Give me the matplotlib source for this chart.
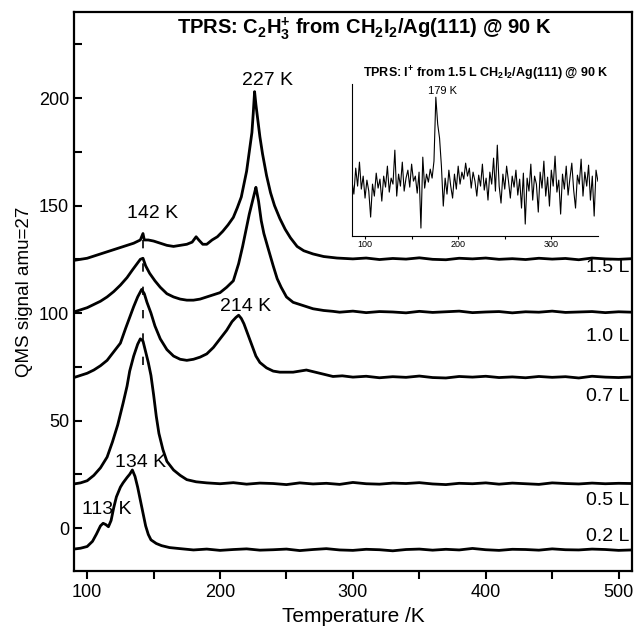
import matplotlib
matplotlib.use("Agg")
import matplotlib.pyplot as plt
import numpy as np

plt.rcParams['font.family'] = ['Liberation Sans', 'DejaVu Sans']
plt.rcParams['mathtext.fontset'] = 'custom'
plt.rcParams['mathtext.rm'] = 'Liberation Sans'
plt.rcParams['mathtext.bf'] = 'Liberation Sans:bold'
plt.rcParams['mathtext.it'] = 'Liberation Sans:italic'

# --- main TPRS traces (C2H3+, amu 27) ---
t_02 = [90, 95, 100, 104, 107, 110, 112, 114, 116, 118, 120, 122, 125, 127, 130, 132, 134,
        136, 138, 140, 142, 144, 146, 148, 152, 156, 162] + list(range(170, 511, 10))
s_02 = [-9.8, -9.4, -8.6, -6.2, -2.8, 1.0, 2.2, 1.6, 0.6, 3.5, 9.5, 14.5, 19.0, 21.0, 23.5, 25.0, 27.0,
        24.0, 19.0, 13.0, 7.0, 1.0, -3.0, -5.5, -7.2, -8.2, -9.1,
        -9.6, -10.2, -9.8, -10.4, -10.0, -9.7, -10.3, -10.1, -9.8, -10.5, -10.0, -9.6,
        -10.2, -10.4, -9.9, -10.1, -10.6, -10.0, -9.8, -10.3, -9.9, -10.2, -9.5, -10.1,
        -10.4, -9.9, -10.0, -10.3, -9.7, -10.1, -10.2, -9.8, -10.0, -10.4, -10.2]

t_05 = [90, 95, 100, 105, 110, 115, 119, 123, 127, 130, 132, 135, 138, 140, 142, 144,
        146, 148, 150, 152, 154, 157, 160, 165, 170, 175, 182] + list(range(190, 511, 10))
s_05 = [20.5, 21.0, 22.0, 24.5, 28.0, 33.0, 40.0, 48.0, 58.0, 66.0, 73.0, 80.0, 85.5, 88.0, 87.0, 82.0,
        77.0, 71.0, 62.0, 52.0, 44.0, 36.5, 31.0, 27.0, 24.5, 22.5, 21.5,
        21.0, 20.6, 21.1, 20.4, 20.9, 20.7, 20.2, 21.0, 20.5, 20.8, 20.3, 21.2, 20.6,
        20.4, 20.9, 20.7, 21.1, 20.5, 20.2, 20.8, 20.6, 21.0, 20.4, 20.9, 20.6, 20.3,
        21.0, 20.7, 20.5, 20.9, 20.6, 20.8, 20.7]

t_07 = [90, 95, 100, 105, 110, 115, 120, 125, 129, 132, 135, 138, 141, 143, 145, 148,
        151, 155, 160, 165, 170, 175, 180, 185, 190, 195, 200, 205, 209, 212, 214, 216,
        218, 221, 224, 227, 230, 235, 240, 245, 255, 265, 275, 285, 292] + list(range(300, 511, 10))
s_07 = [70.0, 71.0, 72.0, 73.5, 75.5, 78.0, 82.0, 86.0, 93.0, 98.0, 103.0, 107.5, 111.0, 109.0, 105.0, 100.0,
        94.0, 88.0, 83.0, 80.0, 78.5, 78.0, 78.5, 79.5, 81.0, 84.0, 88.0, 92.0, 96.0, 98.0, 99.0, 97.5,
        95.0, 90.0, 85.0, 80.0, 77.0, 74.5, 73.0, 72.5, 72.5, 73.5, 72.0, 70.5, 70.8,
        70.2, 70.6, 69.9, 70.4, 70.1, 70.7, 70.0, 69.8, 70.5, 70.2, 70.6, 70.0, 70.3,
        69.9, 70.5, 70.1, 70.4, 69.8, 70.6, 70.2, 70.0, 70.3]

t_10 = [90, 95, 100, 105, 110, 115, 120, 125, 130, 134, 137, 140, 142, 144, 147, 151,
        155, 160, 165, 170, 175, 180, 185, 190, 195, 200, 205, 210, 214, 217, 220, 222,
        224, 226, 227, 229, 231, 233, 236, 240, 243, 246, 250, 255, 260, 265, 270, 278,
        285] + list(range(290, 511, 10))
s_10 = [100.5, 101.5, 102.5, 104.0, 105.5, 107.5, 110.0, 113.0, 116.5, 120.0, 122.5, 125.0, 125.5, 122.0, 118.5, 115.0,
        112.0, 109.0, 107.5, 106.5, 106.0, 106.0, 106.5, 107.5, 108.5, 109.5, 112.0, 115.0, 123.0, 131.0, 140.0, 146.0,
        151.0, 156.0, 158.5, 152.0, 143.0, 137.0, 130.5, 122.0, 116.0, 112.0, 107.5, 105.0, 104.0, 103.0, 102.0, 101.2,
        100.8,
        100.4, 100.9, 100.2, 100.7, 100.5, 100.1, 100.8, 100.3, 100.6, 100.9, 100.2, 100.5,
        100.7, 100.1, 100.6, 100.4, 100.9, 100.3, 100.5, 100.7, 100.2, 100.6, 100.4]

t_15 = [90, 95, 100, 105, 110, 115, 120, 125, 130, 135, 140, 142, 143, 146, 150, 155,
        160, 165, 170, 175, 179, 182, 184, 187, 190, 194, 198, 202, 206, 210, 213, 216,
        218, 220, 222, 224, 225, 226, 227, 228, 230, 232, 235, 238, 241, 245, 249, 253,
        258, 263, 270, 278, 288] + list(range(300, 511, 10))
s_15 = [124.5, 125.0, 125.5, 126.5, 127.5, 128.5, 129.5, 130.5, 131.5, 132.5, 134.0, 137.0, 134.0, 134.0, 133.5, 132.5,
        131.5, 131.0, 131.5, 132.0, 133.0, 135.5, 134.0, 132.0, 132.0, 134.0, 135.5, 138.0, 141.0, 144.5, 149.0, 154.0,
        160.0, 166.0, 175.0, 184.0, 193.0, 203.0, 197.0, 192.0, 182.0, 174.0, 164.0, 156.0, 150.0, 144.0, 139.0, 135.0,
        131.0, 129.0, 127.5, 126.3, 125.6,
        125.2, 125.6, 124.9, 125.4, 125.1, 125.7, 125.0, 124.8, 125.5, 125.2, 125.6, 125.0,
        125.3, 124.9, 125.5, 125.1, 125.4, 124.8, 125.6, 125.2, 125.0, 125.3]

traces = [(t_02, s_02), (t_05, s_05), (t_07, s_07), (t_10, s_10), (t_15, s_15)]
dose_labels = ['0.2 L', '0.5 L', '0.7 L', '1.0 L', '1.5 L']
dose_label_y = [-4, 13, 61, 89, 121]

peak_labels = ['113 K', '134 K', '214 K', '142 K', '227 K']
peak_label_x = [115, 140, 219, 149, 236]
peak_label_y = [8.5, 30.5, 103, 146.5, 208]

# --- inset: I+ signal from 1.5 L ---
t_inset = np.arange(86, 351, 2)
s_inset = [55, 42, 68, 50, 74, 47, 60, 38, 56, 45, 19, 52, 40, 63, 48, 57,
           35, 60, 49, 70, 44, 58, 52, 86, 40, 62, 50, 74, 45, 58, 66, 49,
           72, 55, 60, 43, 64, 8, 79, 48, 62, 54, 67, 58, 75, 139, 112, 98,
           70, 30, 58, 42, 66, 50, 38, 62, 47, 70, 52, 64, 57, 73, 60, 68,
           48, 64, 55, 40, 61, 50, 72, 46, 58, 36, 64, 52, 78, 45, 91, 50,
           33, 62, 47, 70, 55, 38, 60, 49, 66, 41, 57, 28, 63, 12, 58, 45,
           72, 36, 60, 52, 24, 64, 48, 75, 40, 59, 30, 66, 50, 80, 44, 56,
           22, 62, 47, 70, 41, 58, 73, 46, 28, 61, 52, 77, 40, 64, 50, 71,
           36, 60, 20, 66, 55]

fig = plt.figure(figsize=(6.37, 6.38), dpi=100)
ax = fig.add_axes([0.116, 0.105, 0.876, 0.876])

for t, s in traces:
    ax.plot(t, s, color='black', lw=2.0)

# dashed guide at 142 K
ax.plot([142, 142], [76, 134], color='black', lw=1.2, dashes=(5, 9))

for lab, y in zip(dose_labels, dose_label_y):
    ax.text(508, y, lab, ha='right', va='center', fontsize=14)
for lab, x, y in zip(peak_labels, peak_label_x, peak_label_y):
    ax.text(x, y, lab, ha='center', va='center', fontsize=14)

ax.text(0.52, 0.971, r'TPRS: C$_\mathbf{2}$H$_\mathbf{3}^\mathbf{+}$ from CH$_\mathbf{2}$I$_\mathbf{2}$/Ag(111) @ 90 K',
        transform=ax.transAxes, ha='center', va='center', fontsize=14.5, fontweight='bold')

ax.set_xlim(90, 510)
ax.set_ylim(-20, 240)
ax.set_xticks([100, 200, 300, 400, 500])
ax.set_xticks([150, 250, 350, 450], minor=True)
ax.set_yticks([0, 50, 100, 150, 200])
ax.set_yticks([-25, 25, 75, 125, 175, 225], minor=True)
ax.set_ylim(-20, 240)
ax.tick_params(axis='x', which='both', direction='out', length=6, width=1.5, labelsize=13)
ax.tick_params(axis='y', which='both', direction='in', length=6, width=1.5, labelsize=13)
for sp in ax.spines.values():
    sp.set_linewidth(1.6)
ax.set_xlabel('Temperature /K', fontsize=15)
ax.set_ylabel('QMS signal amu=27', fontsize=13.5)

# inset
ax2 = fig.add_axes([0.5526, 0.630, 0.386, 0.238])
ax2.plot(t_inset, s_inset, color='black', lw=0.8)
ax2.set_xlim(86, 350)
ax2.set_ylim(0, 152)
ax2.spines['top'].set_visible(False)
ax2.spines['right'].set_visible(False)
ax2.set_yticks([])
ax2.set_xticks([100, 200, 300])
ax2.set_xticks([150, 250], minor=True)
ax2.tick_params(axis='x', which='both', direction='out', length=2, width=0.8, labelsize=6.5, pad=1)
ax2.patch.set_alpha(0)
ax2.text(183, 145, '179 K', ha='center', va='center', fontsize=8)
fig.text(0.763, 0.885, r'TPRS: I$^\mathbf{+}$ from 1.5 L CH$_\mathbf{2}$I$_\mathbf{2}$/Ag(111) @ 90 K',
         ha='center', va='center', fontsize=9, fontweight='bold')

fig.savefig('out.png', dpi=100)
